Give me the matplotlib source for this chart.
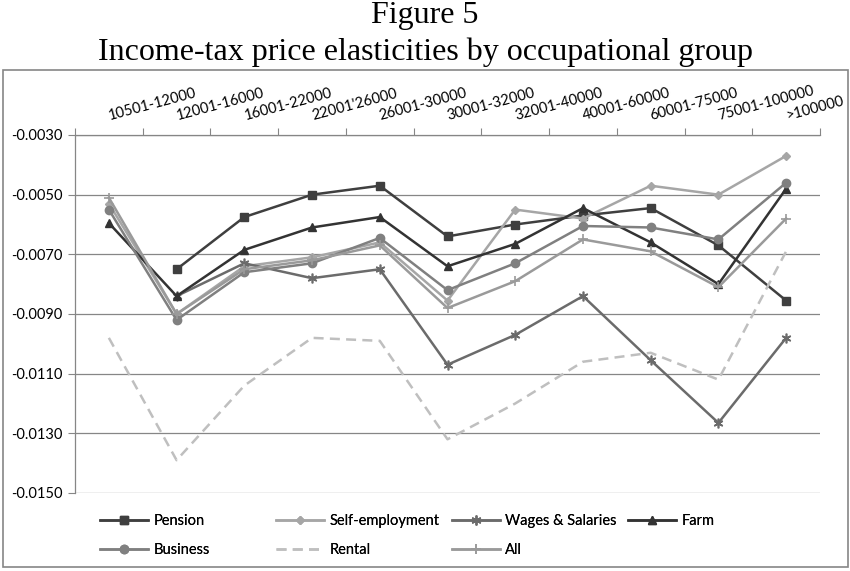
import numpy as np
import matplotlib.pyplot as plt
from matplotlib.patches import Rectangle

nan = np.nan

brackets = ["10501-12000", "12001-16000", "16001-22000", "22001'26000", "26001-30000",
            "30001-32000", "32001-40000", "40001-60000", "60001-75000", "75001-100000",
            ">100000"]

pension = [nan, -0.0075, -0.00575, -0.0050, -0.0047, -0.0064, -0.0060, -0.0057,
           -0.00545, -0.0067, -0.00855]
self_employment = [-0.0053, -0.0090, -0.0074, -0.0071, -0.0066, -0.00855, -0.0055,
                   -0.0058, -0.0047, -0.0050, -0.0037]
wages = [nan, -0.0084, -0.0073, -0.0078, -0.0075, -0.0107, -0.0097, -0.0084,
         -0.01055, -0.01265, -0.0098]
farm = [-0.00595, -0.0084, -0.00685, -0.0061, -0.00575, -0.0074, -0.00665, -0.00545,
        -0.0066, -0.0080, -0.0048]
business = [-0.0055, -0.0092, -0.0076, -0.0073, -0.00645, -0.0082, -0.0073, -0.00605,
            -0.0061, -0.0065, -0.0046]
rental = [-0.0098, -0.0139, -0.0114, -0.0098, -0.0099, -0.0132, -0.0120, -0.0106,
          -0.0103, -0.0112, -0.0069]
all_groups = [-0.0051, -0.0090, -0.0075, -0.0072, -0.0067, -0.0088, -0.0079, -0.0065,
              -0.0069, -0.0081, -0.0058]

plt.rcParams['font.family'] = ['Lato', 'DejaVu Sans']
grid_col = '#868686'

fig = plt.figure(figsize=(8.5, 5.71), dpi=100)
ax = fig.add_axes([75 / 850, 1 - 493 / 571, 745 / 850, 358 / 571])

x = np.arange(len(brackets))
lines = {}
lines['Pension'], = ax.plot(x, pension, color='#3f3f3f', lw=1.8, marker='s', ms=6)
lines['Self-employment'], = ax.plot(x, self_employment, color='#a6a6a6', lw=1.8,
                                    marker='D', ms=4)
lines['Wages & Salaries'], = ax.plot(x, wages, color='#6b6b6b', lw=1.8,
                                     marker=(6, 2, 0), ms=7, mew=1.2)
lines['Farm'], = ax.plot(x, farm, color='#333333', lw=1.8, marker='^', ms=6)
lines['Business'], = ax.plot(x, business, color='#808080', lw=1.8, marker='o', ms=6)
lines['Rental'], = ax.plot(x, rental, color='#bfbfbf', lw=1.8, ls=(0, (4, 2.5)))
lines['All'], = ax.plot(x, all_groups, color='#9a9a9a', lw=1.8, marker='+', ms=7, mew=1.2)

ax.set_xlim(-0.5, len(brackets) - 0.5)
ax.set_ylim(-0.015, -0.003)
ax.set_yticks(np.arange(-0.015, -0.0029, 0.002))
ax.yaxis.set_major_formatter(plt.FormatStrFormatter('%.4f'))
ax.yaxis.grid(True, color=grid_col, lw=0.9)
ax.set_axisbelow(True)

# category axis on top, ticks between categories
ax.xaxis.tick_top()
ax.set_xticks(np.arange(-0.5, len(brackets)), labels=[])
ax.tick_params(axis='x', which='major', length=5, color=grid_col, direction='out')
for xi, name in zip(x, brackets):
    ax.annotate(name, xy=(xi, 1), xycoords=('data', 'axes fraction'),
                xytext=(1, 15), textcoords='offset pixels', rotation=15,
                rotation_mode='anchor', ha='left', va='baseline', fontsize=10.5)
ax.tick_params(axis='y', length=5, color=grid_col, labelsize=10.5, pad=4)

for side in ['right', 'bottom']:
    ax.spines[side].set_visible(False)
for side in ['left', 'top']:
    ax.spines[side].set_color(grid_col)
    ax.spines[side].set_linewidth(0.9)

# legend, laid out in equal-width columns like the original
columns = [['Pension', 'Business'], ['Self-employment', 'Rental'],
           ['Wages & Salaries', 'All'], ['Farm']]
col_x = [100, 276, 452, 628]
for names, cx in zip(columns, col_x):
    leg = fig.legend([lines[n] for n in names], names, loc='upper left',
                     bbox_to_anchor=(cx / 850, 1 - 514 / 571), frameon=False,
                     fontsize=10.5, handlelength=3.3, handletextpad=0.35,
                     borderpad=0, borderaxespad=0, labelspacing=1.05)
    fig.add_artist(leg)

# chart frame
fig.add_artist(Rectangle((3 / 850, 1 - 567 / 571), 845 / 850, 497 / 571,
                         transform=fig.transFigure, fill=False, ec=grid_col, lw=1.2))

fig.text(0.5, 1 - 16 / 571, 'Figure 5', ha='center', va='center',
         family='Liberation Serif', fontsize=23)
fig.text(0.5, 1 - 52 / 571, 'Income-tax price elasticities by occupational group',
         ha='center', va='center', family='Liberation Serif', fontsize=23)

fig.savefig('out.png', dpi=100)
